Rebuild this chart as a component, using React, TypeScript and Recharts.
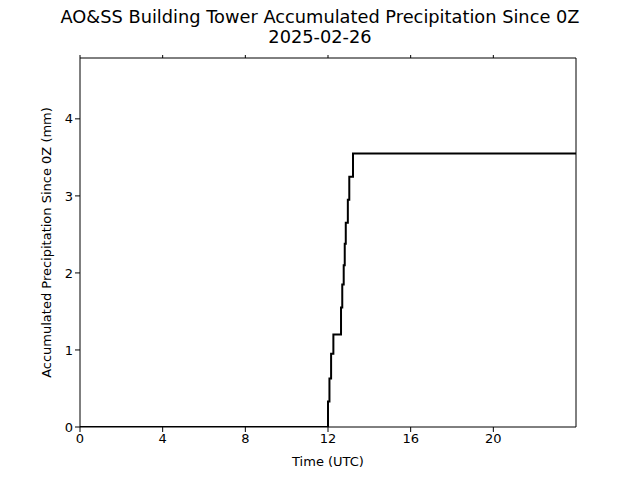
import { LineChart, Line, XAxis, YAxis } from "recharts";

// hours since 0Z
const hours = [0, 12.0, 12.07, 12.15, 12.26, 12.63, 12.69, 12.76, 12.81, 12.86, 12.96, 13.03, 13.21, 24];
// accumulated precipitation (mm)
const precip = [0, 0.33, 0.63, 0.95, 1.2, 1.55, 1.85, 2.1, 2.38, 2.65, 2.95, 3.25, 3.55, 3.55];

const xTicks = [0, 4, 8, 12, 16, 20];
const yTicks = [0, 1, 2, 3, 4];

const data = hours.map((h, i) => ({ hour: h, value: precip[i] }));

const font = "'DejaVu Sans', sans-serif";

export default function App() {
    return (
        <div style={{ position: "absolute", left: 0, top: 0, width: 640, height: 480, background: "#fff", fontFamily: font }}>
            <div style={{ position: "absolute", left: 0, width: 640, top: 7, textAlign: "center", fontSize: 17.8, lineHeight: "20px", color: "#000" }}>
                AO&amp;SS Building Tower Accumulated Precipitation Since 0Z
                <br />
                2025-02-26
            </div>
            <LineChart
                width={640}
                height={480}
                data={data}
                margin={{ top: 48, right: 54, bottom: 0, left: 0 }}
            >
                <XAxis
                    dataKey="hour"
                    type="number"
                    domain={[0, 24]}
                    ticks={xTicks}
                    allowDataOverflow
                    height={53}
                    stroke="#000"
                    tickSize={5}
                    tick={{ fill: "#000", fontSize: 13, fontFamily: font }}
                    label={{ value: "Time (UTC)", position: "insideBottom", offset: 14, fill: "#000", fontSize: 13, fontFamily: font }}
                />
                <XAxis
                    xAxisId="top"
                    orientation="top"
                    dataKey="hour"
                    type="number"
                    domain={[0, 24]}
                    ticks={xTicks}
                    height={10}
                    stroke="#000"
                    tickSize={3}
                    tickFormatter={() => ""}
                />
                <YAxis
                    type="number"
                    domain={[0, 4.79]}
                    ticks={yTicks}
                    allowDataOverflow
                    width={80}
                    stroke="#000"
                    tickSize={5}
                    tick={{ fill: "#000", fontSize: 13, fontFamily: font }}
                    label={{ value: "Accumulated Precipitation Since 0Z (mm)", angle: -90, position: "insideLeft", offset: 46, fill: "#000", fontSize: 13, fontFamily: font, style: { textAnchor: "middle" } }}
                />
                <YAxis
                    yAxisId="right"
                    orientation="right"
                    domain={[0, 4.79]}
                    width={10}
                    stroke="#000"
                    tick={false}
                    tickLine={false}
                />
                <Line
                    dataKey="value"
                    type="stepAfter"
                    stroke="#000"
                    strokeWidth={2}
                    dot={false}
                    isAnimationActive={false}
                />
            </LineChart>
        </div>
    );
}
